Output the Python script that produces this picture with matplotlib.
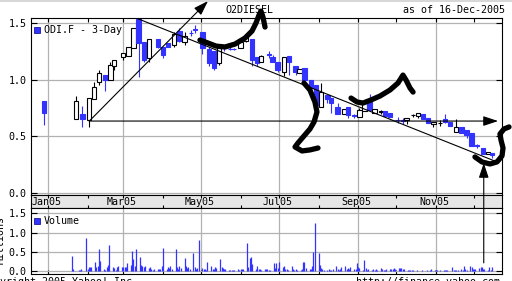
import datetime as dt
import matplotlib
matplotlib.use("Agg")
import matplotlib.pyplot as plt
import matplotlib.dates as mdates
import numpy as np
import pandas as pd
from matplotlib.lines import Line2D

# 3-day candles for ODI.F
candle_dates = ["2004-12-29", "2005-01-23", "2005-01-28", "2005-02-02", "2005-02-06", "2005-02-10",
                "2005-02-15", "2005-02-19", "2005-02-22", "2005-03-01", "2005-03-05", "2005-03-09",
                "2005-03-13", "2005-03-17", "2005-03-21", "2005-03-28", "2005-04-01", "2005-04-05",
                "2005-04-10", "2005-04-14", "2005-04-18", "2005-04-23", "2005-04-26", "2005-05-02",
                "2005-05-07", "2005-05-11", "2005-05-15", "2005-05-19", "2005-05-24", "2005-05-27",
                "2005-06-01", "2005-06-05", "2005-06-10", "2005-06-14", "2005-06-17", "2005-06-23",
                "2005-06-26", "2005-06-30", "2005-07-05", "2005-07-09", "2005-07-14", "2005-07-17",
                "2005-07-21", "2005-07-26", "2005-07-30", "2005-08-03", "2005-08-08", "2005-08-11",
                "2005-08-16", "2005-08-21", "2005-08-24", "2005-08-29", "2005-09-02", "2005-09-06",
                "2005-09-10", "2005-09-14", "2005-09-19", "2005-09-22", "2005-09-26", "2005-10-02",
                "2005-10-06", "2005-10-09", "2005-10-14", "2005-10-18", "2005-10-22", "2005-10-26",
                "2005-10-30", "2005-11-04", "2005-11-08", "2005-11-12", "2005-11-17", "2005-11-21",
                "2005-11-25", "2005-11-29", "2005-12-03", "2005-12-08", "2005-12-12", "2005-12-15"]
opens = [0.81, 0.65, 0.70, 0.64, 0.83, 0.98, 1.04, 1.00, 1.12, 1.20,
         1.21, 1.28, 1.54, 1.33, 1.19, 1.36, 1.29, 1.32, 1.31, 1.43,
         1.33, 1.415, 1.445, 1.42, 1.27, 1.25, 1.15, 1.285, 1.275, 1.275,
         1.28, 1.34, 1.36, 1.20, 1.16, 1.225, 1.20, 1.16, 1.065, 1.21,
         1.12, 1.056, 1.10, 1.00, 0.95, 0.76, 0.865, 0.84, 0.76, 0.695,
         0.76, 0.685, 0.67, 0.72, 0.81, 0.71, 0.715, 0.72, 0.71, 0.645,
         0.64, 0.64, 0.685, 0.68, 0.70, 0.66, 0.61, 0.615, 0.65, 0.63,
         0.54, 0.58, 0.555, 0.53, 0.42, 0.40, 0.344, 0.356]
highs = [0.81, 0.86, 0.77, 0.84, 0.98, 1.09, 1.04, 1.16, 1.17, 1.24,
         1.29, 1.46, 1.54, 1.33, 1.36, 1.36, 1.29, 1.32, 1.42, 1.46,
         1.42, 1.44, 1.48, 1.42, 1.29, 1.25, 1.28, 1.31, 1.29, 1.28,
         1.33, 1.38, 1.36, 1.20, 1.22, 1.25, 1.22, 1.16, 1.20, 1.21,
         1.12, 1.094, 1.10, 1.00, 0.95, 0.97, 0.865, 0.84, 0.79, 0.74,
         0.76, 0.70, 0.75, 0.80, 0.87, 0.74, 0.73, 0.72, 0.71, 0.67,
         0.66, 0.66, 0.70, 0.71, 0.70, 0.66, 0.63, 0.64, 0.70, 0.63,
         0.65, 0.58, 0.555, 0.53, 0.43, 0.40, 0.364, 0.356]
lows = [0.60, 0.65, 0.58, 0.58, 0.83, 0.95, 0.90, 1.00, 1.09, 1.17,
        1.21, 1.28, 1.02, 1.16, 1.16, 1.28, 1.19, 1.29, 1.29, 1.33,
        1.31, 1.39, 1.41, 1.23, 1.12, 1.09, 1.13, 1.25, 1.26, 1.26,
        1.28, 1.33, 1.12, 1.12, 1.16, 1.19, 1.16, 1.07, 1.035, 1.04,
        1.04, 1.056, 0.97, 0.91, 0.77, 0.76, 0.79, 0.71, 0.70, 0.695,
        0.66, 0.66, 0.67, 0.72, 0.73, 0.71, 0.70, 0.68, 0.675, 0.62,
        0.61, 0.61, 0.67, 0.66, 0.65, 0.615, 0.58, 0.595, 0.62, 0.59,
        0.54, 0.53, 0.485, 0.415, 0.40, 0.344, 0.344, 0.31]
closes = [0.71, 0.81, 0.65, 0.84, 0.94, 1.06, 1.00, 1.13, 1.17, 1.24,
          1.29, 1.46, 1.32, 1.17, 1.36, 1.29, 1.22, 1.29, 1.40, 1.34,
          1.39, 1.41, 1.44, 1.28, 1.15, 1.10, 1.28, 1.28, 1.27, 1.27,
          1.33, 1.38, 1.17, 1.15, 1.21, 1.22, 1.16, 1.085, 1.20, 1.16,
          1.065, 1.094, 1.00, 0.93, 0.78, 0.89, 0.83, 0.79, 0.70, 0.74,
          0.69, 0.68, 0.73, 0.79, 0.73, 0.74, 0.72, 0.68, 0.675, 0.64,
          0.635, 0.66, 0.69, 0.71, 0.655, 0.615, 0.63, 0.62, 0.625, 0.59,
          0.58, 0.53, 0.51, 0.415, 0.415, 0.344, 0.364, 0.335]

# daily volume (millions), one list per month, business days from 20 Jan
vol_jan = [0.40, 0.05, 0.0, 0.03, 0.02, 0.05, 0.0, 0.86]
vol_feb = [0.05, 0.09, 0.09, 0.09, 0.22, 0.11, 0.13, 0.56, 0.27, 0.04,
           0.02, 0.10, 0.15, 0.68, 0.10, 0.08, 0.03, 0.10, 0.12, 0.10]
vol_mar = [0.10, 0.09, 0.09, 0.20, 0.15, 0.52, 0.31, 0.12, 0.56, 0.36, 0.15, 0.12,
           0.10, 0.12, 0.08, 0.10, 0.05, 0.03, 0.05, 0.06, 0.05, 0.06, 0.12]
vol_apr = [0.59, 0.05, 0.10, 0.08, 0.13, 0.05, 0.56, 0.10, 0.05, 0.12, 0.08,
           0.33, 0.12, 0.08, 0.10, 0.06, 0.46, 0.10, 0.05, 0.08, 0.80]
vol_may = [0.08, 0.05, 0.05, 0.03, 0.23, 0.12, 0.06, 0.05, 0.10, 0.08, 0.31,
           0.10, 0.07, 0.05, 0.06, 0.03, 0.02, 0.03, 0.03, 0.03, 0.05, 0.03]
vol_jun = [0.05, 0.04, 0.06, 0.72, 0.10, 0.33, 0.36, 0.18, 0.05, 0.13, 0.04,
           0.05, 0.03, 0.05, 0.04, 0.05, 0.02, 0.03, 0.20, 0.08, 0.20, 0.08]
vol_jul = [0.22, 0.10, 0.14, 0.06, 0.04, 0.03, 0.12, 0.05, 0.03, 0.04, 0.03,
           0.02, 0.05, 0.22, 0.22, 0.08, 0.05, 0.06, 0.12, 0.49, 1.26]
vol_aug = [0.46, 0.15, 0.08, 0.05, 0.03, 0.02, 0.04, 0.02, 0.03, 0.06, 0.13, 0.05,
           0.02, 0.04, 0.10, 0.12, 0.05, 0.08, 0.04, 0.10, 0.06, 0.04, 0.20]
vol_sep = [0.10, 0.08, 0.03, 0.29, 0.08, 0.03, 0.05, 0.03, 0.06, 0.02, 0.04,
           0.03, 0.08, 0.04, 0.03, 0.02, 0.05, 0.04, 0.06, 0.04, 0.07, 0.05]
vol_oct = [0.07, 0.08, 0.08, 0.04, 0.06, 0.03, 0.02, 0.02, 0.02, 0.02, 0.02,
           0.01, 0.01, 0.01, 0.02, 0.01, 0.02, 0.01, 0.02, 0.05, 0.03]
vol_nov = [0.02, 0.02, 0.01, 0.02, 0.03, 0.02, 0.03, 0.02, 0.01, 0.10, 0.03,
           0.02, 0.02, 0.03, 0.05, 0.03, 0.13, 0.05, 0.03, 0.12, 0.10, 0.06]
vol_dec = [0.04, 0.06, 0.08, 0.10, 0.10, 0.04, 0.06, 0.03, 0.10, 0.02, 0.10]

# hand drawn marks on the chart: (days after 1 Jan 2005, price)
stroke_may = [(119.1, 1.350), (125.4, 1.324), (131.7, 1.297), (138.7, 1.289), (146.6, 1.315),
              (154.4, 1.368), (159.9, 1.430), (163.0, 1.500), (165.4, 1.571), (166.9, 1.606),
              (168.5, 1.553), (170.1, 1.465)]
stroke_aug = [(200.6, 0.971), (205.3, 0.909), (209.2, 0.803), (210.8, 0.715), (208.5, 0.627),
              (205.3, 0.565), (200.6, 0.503), (195.9, 0.441), (193.6, 0.406), (199.1, 0.371),
              (205.3, 0.380), (211.6, 0.397)]
stroke_sep = [(237.5, 0.838), (242.2, 0.803), (246.9, 0.794), (253.1, 0.821), (260.2, 0.856),
              (268.0, 0.909), (274.3, 0.971), (278.2, 1.041), (280.6, 0.997), (283.7, 0.927),
              (286.1, 0.891)]
stroke_dec = [(334.6, 0.318), (340.1, 0.274), (346.4, 0.256), (351.9, 0.274), (355.8, 0.327),
              (356.6, 0.397), (355.0, 0.468), (354.2, 0.521), (357.4, 0.565), (361.3, 0.583)]
up_line = [(32.4, 0.635), (125.4, 1.695)]
down_line = [(69.7, 1.542), (351.9, 0.274)]
flat_line = [(32.4, 0.635), (352.7, 0.635)]
vert_arrow = (341.5, 0.21, 0.265)  # day, volume start, price end

BLUE = "#3333ff"
GRID = "#b2b2b2"
plt.rcParams["font.family"] = ["DejaVu Sans Mono"]
plt.rcParams["font.size"] = 7.2

fig = plt.figure(figsize=(5.12, 2.81), dpi=100)
ax = fig.add_axes([31 / 512, 1 - 195 / 281, 471 / 512, 177 / 281])
band = fig.add_axes([31 / 512, 1 - 208 / 281, 471 / 512, 13 / 281])
axv = fig.add_axes([31 / 512, 1 - 274 / 281, 471 / 512, 66 / 281])

base = mdates.date2num(dt.datetime(2005, 1, 1))
xlim = (base - 13.3, base + 355.8)

# candles
x = mdates.date2num(pd.to_datetime(candle_dates))
o = np.array(opens); h = np.array(highs); l = np.array(lows); c = np.array(closes)
up = c > o
wick_col = np.where(up, "black", BLUE)
ax.vlines(x, l, h, colors=wick_col, lw=0.8, zorder=3)
ax.bar(x, np.maximum(np.abs(c - o), 0.005), bottom=np.minimum(o, c), width=3.4,
       color=np.where(up, "white", BLUE), edgecolor=wick_col, linewidth=0.8, zorder=4)

# volume
vols = vol_jan + vol_feb + vol_mar + vol_apr + vol_may + vol_jun + vol_jul + vol_aug + vol_sep + vol_oct + vol_nov + vol_dec
vdates = pd.bdate_range("2005-01-20", "2005-12-15")
vx = mdates.date2num(vdates[:len(vols)])
axv.vlines(vx, 0, vols, colors=BLUE, lw=0.9, zorder=3)

for a in (ax, band, axv):
    a.set_xlim(*xlim)
    a.xaxis.set_major_locator(mdates.MonthLocator(bymonth=[1, 3, 5, 7, 9, 11]))
    a.xaxis.set_minor_locator(mdates.MonthLocator())
    for s in a.spines.values():
        s.set_linewidth(0.8)

ax.set_ylim(-0.018, 1.545)
ax.set_yticks([0.0, 0.5, 1.0, 1.5])
axv.set_ylim(-0.08, 1.64)
axv.set_yticks([0.0, 0.5, 1.0, 1.5])
for a in (ax, axv):
    a.yaxis.set_major_formatter(matplotlib.ticker.FormatStrFormatter("%.1f"))
    a.grid(True, which="major", color=GRID, lw=0.9, zorder=0)
    a.set_axisbelow(True)
    a.tick_params(axis="y", direction="in", left=True, right=True, length=4, width=0.8, pad=3)
    a.tick_params(axis="x", which="both", direction="in", length=3, width=0.8, labelbottom=False)
ax.tick_params(axis="x", which="both", top=True, bottom=False)
axv.tick_params(axis="x", which="both", top=False, bottom=True)

band.set_facecolor("#e6e6e6")
band.set_ylim(0, 1)
band.set_yticks([])
band.tick_params(axis="x", which="both", direction="in", top=True, bottom=True,
                 length=2.5, width=0.8, labelbottom=False)
for m in [1, 3, 5, 7, 9, 11]:
    d = dt.datetime(2005, m, 1)
    band.text(mdates.date2num(d) - 1.5, 0.45, d.strftime("%b%y"), ha="center", va="center")

# annotations
def to_xy(pts):
    return [base + p[0] for p in pts], [p[1] for p in pts]

for s in (stroke_may, stroke_aug, stroke_sep, stroke_dec):
    xs, ys = to_xy(s)
    ax.plot(xs, ys, color="black", lw=3.8, solid_capstyle="round",
            solid_joinstyle="round", clip_on=False, zorder=6)

xs, ys = to_xy(down_line)
ax.plot(xs, ys, color="black", lw=0.8, zorder=5)
head = dict(arrowstyle="-|>,head_length=0.9,head_width=0.3", color="black", lw=0.8,
            shrinkA=0, shrinkB=0, mutation_scale=10)
for ln in (up_line, flat_line):
    xs, ys = to_xy(ln)
    ax.annotate("", xy=(xs[1], ys[1]), xytext=(xs[0], ys[0]), arrowprops=head,
                annotation_clip=False, zorder=5)
axv.annotate("", xy=(base + vert_arrow[0], vert_arrow[2]), xycoords=ax.transData,
             xytext=(base + vert_arrow[0], vert_arrow[1]), textcoords="data",
             arrowprops=head, annotation_clip=False, zorder=5)

# legends
ax.plot([0.0123], [0.933], "s", ms=4.3, color=BLUE, mec="#000080", mew=0.5,
        transform=ax.transAxes, clip_on=False)
ax.text(0.0276, 0.933, "ODI.F - 3-Day", transform=ax.transAxes, va="center")
axv.plot([0.013], [0.81], "s", ms=4.3, color=BLUE, mec="#000080", mew=0.5,
         transform=axv.transAxes, clip_on=False)
axv.text(0.026, 0.81, "Volume", transform=axv.transAxes, va="center")

fig.text(249 / 512, 1 - 10 / 281, "O2DIESEL", ha="center", va="center")
fig.text(505 / 512, 1 - 10 / 281, "as of 16-Dec-2005", ha="right", va="center")
fig.text(1 / 512, 1 - 240 / 281, "Millions", rotation=90, ha="center", va="center")
fig.text(-18 / 512, 1 - 277 / 281, "Copyright 2005 Yahoo! Inc.", va="top")
fig.text(356 / 512, 1 - 277 / 281, "http://finance.yahoo.com", va="top")
fig.add_artist(Line2D([0, 1], [0.998, 0.998], color="#d0d0d0", lw=1.2))

fig.savefig("out.png", dpi=100)
